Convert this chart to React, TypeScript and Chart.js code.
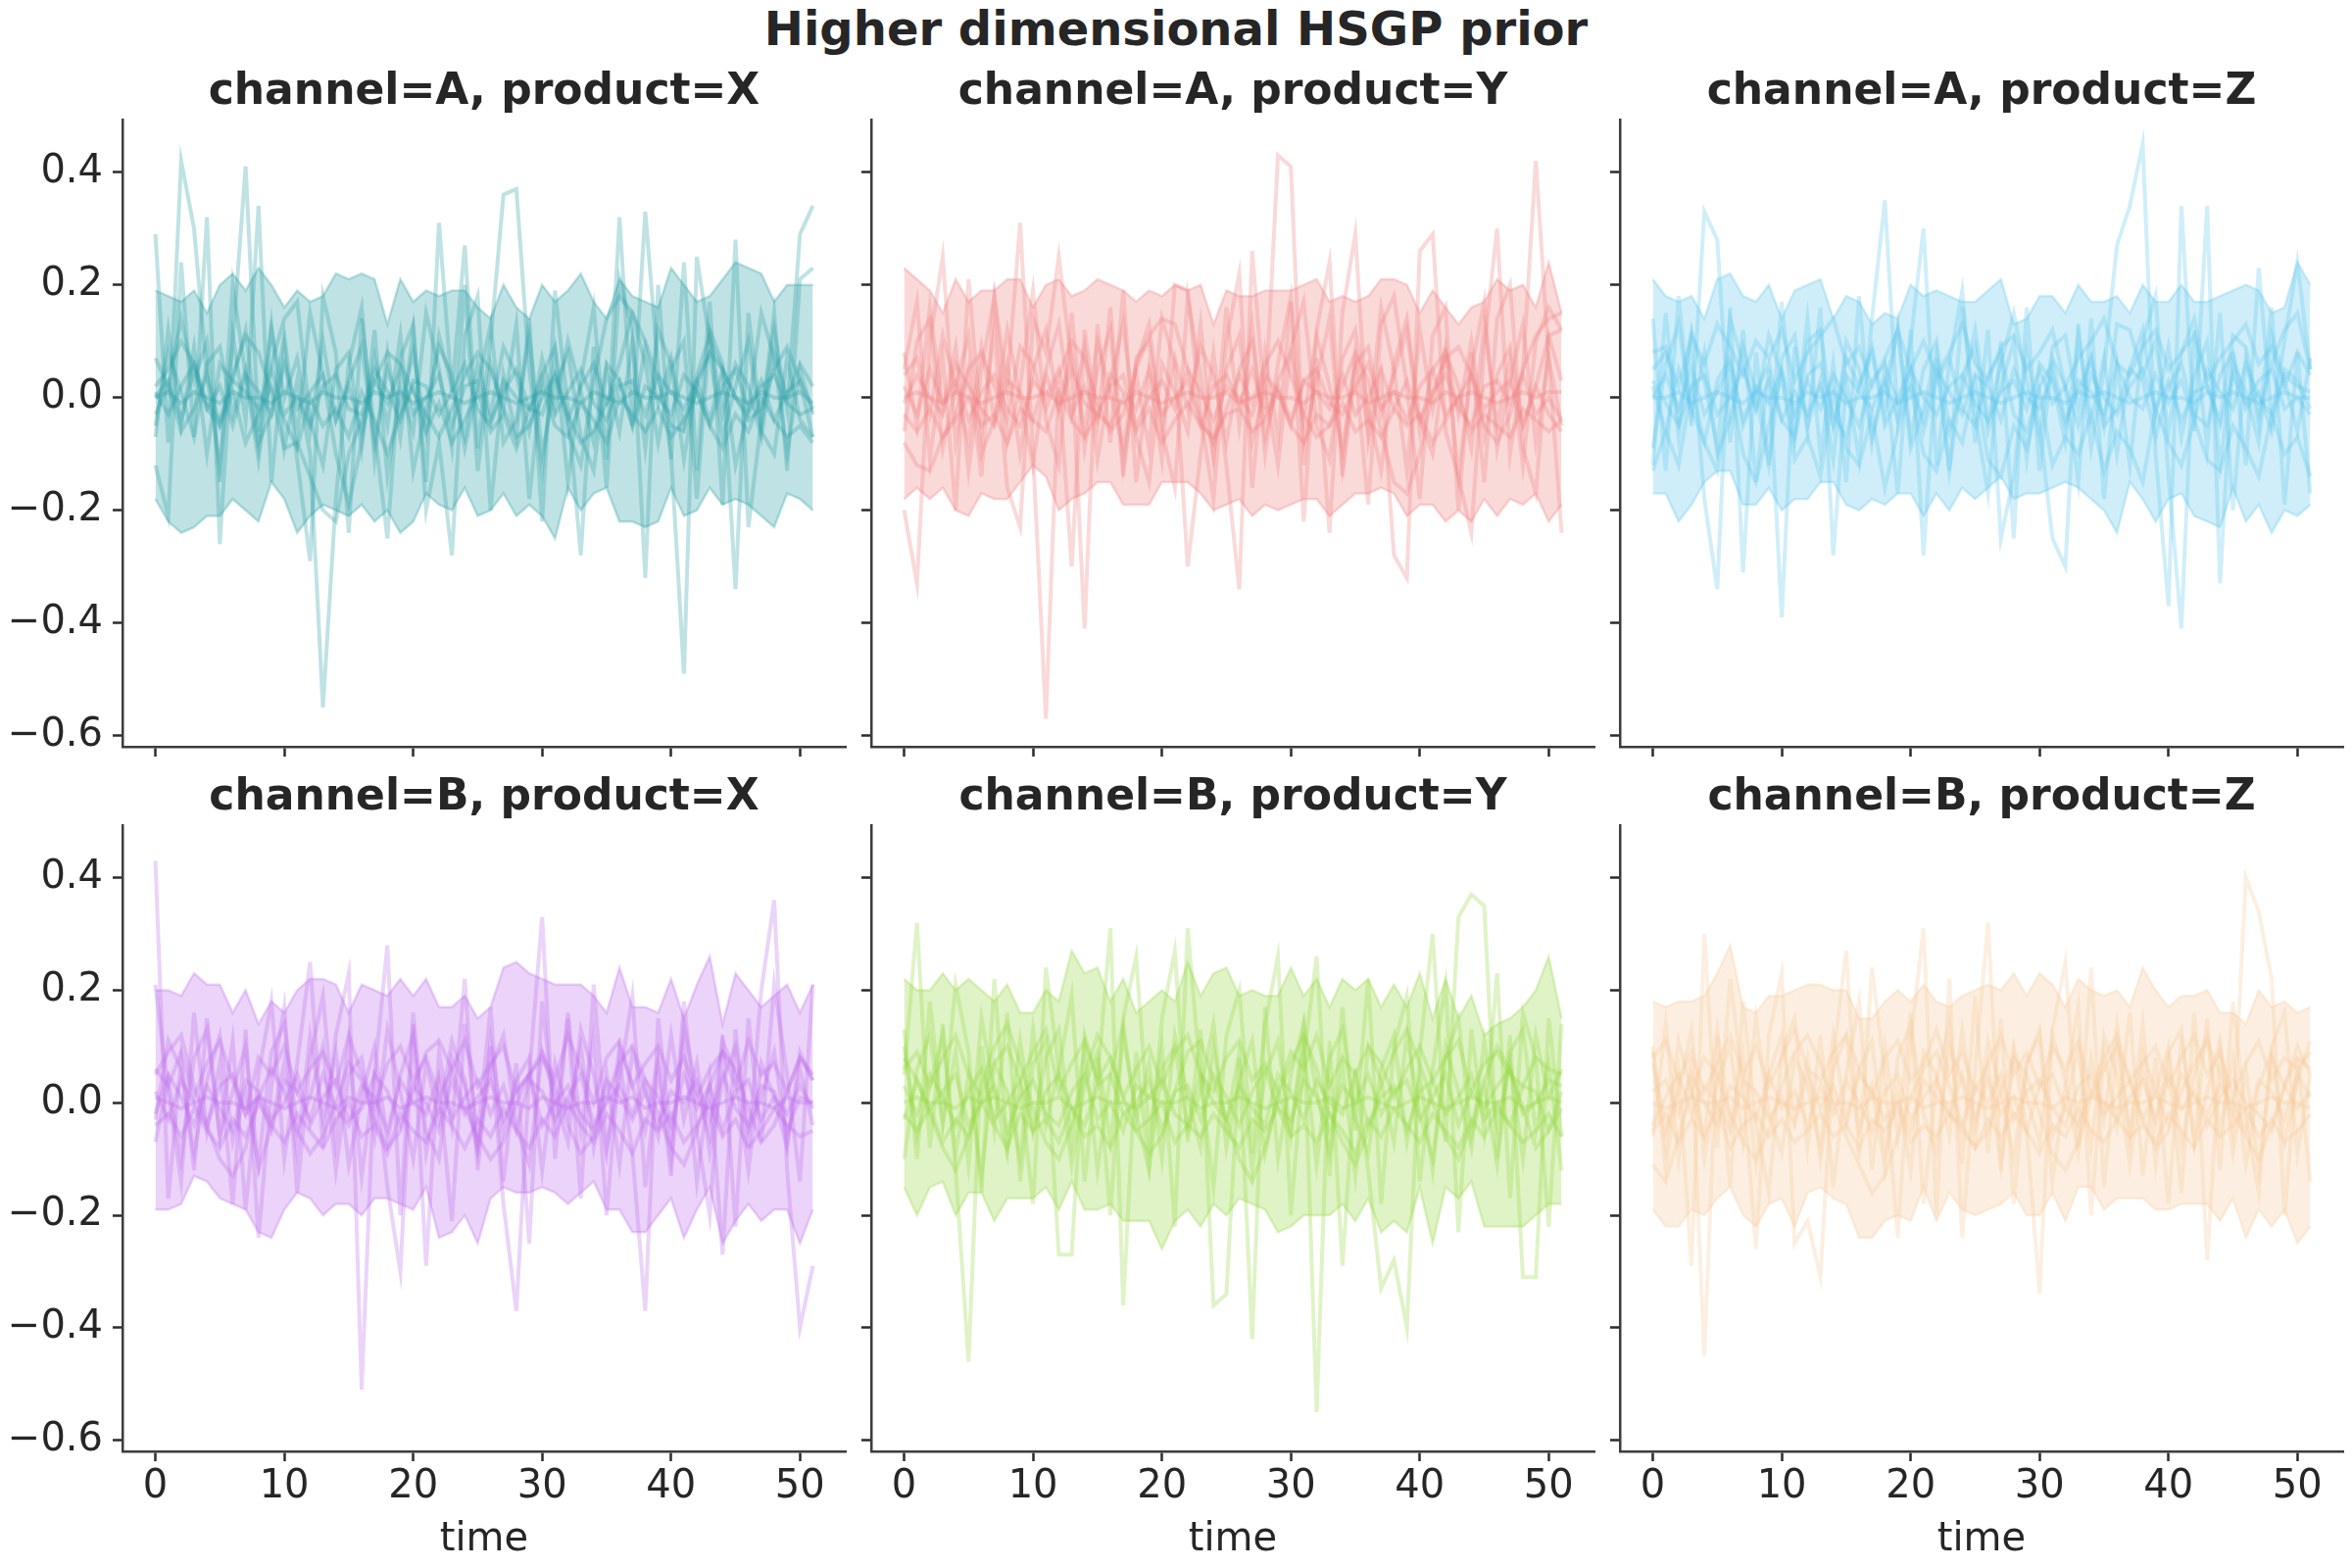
import React, { useEffect, useRef } from "react";
import { Chart, registerables } from "chart.js";

Chart.register(...registerables);

// ---------------- data ----------------
const TIME = [
  0, 1, 2, 3, 4, 5, 6, 7, 8, 9, 10, 11, 12,
  13, 14, 15, 16, 17, 18, 19, 20, 21, 22, 23, 24, 25,
  26, 27, 28, 29, 30, 31, 32, 33, 34, 35, 36, 37, 38,
  39, 40, 41, 42, 43, 44, 45, 46, 47, 48, 49, 50, 51,
];
const X_TICKS = [0, 10, 20, 30, 40, 50];
const X_TICK_LABELS = ["0", "10", "20", "30", "40", "50"];
const Y_TICKS = [-0.6, -0.4, -0.2, 0.0, 0.2, 0.4];
const Y_TICK_LABELS = ["\u22120.6", "\u22120.4", "\u22120.2", "0.0", "0.2", "0.4"];

// ---- channel=A, product=X ----
const AX_UPPER = [
  0.19, 0.18, 0.17, 0.19, 0.15, 0.20, 0.22, 0.19, 0.23, 0.20, 0.16, 0.19, 0.17,
  0.18, 0.22, 0.21, 0.22, 0.21, 0.13, 0.21, 0.17, 0.19, 0.18, 0.19, 0.19, 0.16,
  0.14, 0.20, 0.16, 0.14, 0.20, 0.17, 0.19, 0.22, 0.17, 0.14, 0.21, 0.18, 0.17,
  0.16, 0.23, 0.20, 0.17, 0.18, 0.21, 0.24, 0.23, 0.22, 0.17, 0.20, 0.20, 0.20,
];
const AX_LOWER = [
  -0.18, -0.22, -0.24, -0.23, -0.21, -0.21, -0.18, -0.20, -0.22, -0.15, -0.18, -0.24, -0.21,
  -0.19, -0.20, -0.21, -0.19, -0.22, -0.20, -0.24, -0.22, -0.17, -0.19, -0.20, -0.16, -0.21,
  -0.20, -0.17, -0.21, -0.19, -0.21, -0.25, -0.16, -0.20, -0.17, -0.16, -0.22, -0.22, -0.23,
  -0.22, -0.16, -0.21, -0.20, -0.16, -0.19, -0.18, -0.19, -0.21, -0.23, -0.17, -0.18, -0.20,
];
const AX_SAMPLES = [
  [0.29, -0.08, 0.42, 0.30, 0.04, -0.12, 0.10, 0.41, -0.06, 0.13, -0.09, 0.03, -0.10,
   -0.55, -0.18, 0.06, 0.16, -0.11, 0.08, -0.07, 0.12, -0.15, 0.31, 0.01, 0.27, -0.09,
   0.10, 0.36, 0.37, 0.05, -0.13, 0.08, -0.15, 0.03, 0.16, -0.11, 0.32, -0.05, 0.33,
   0.05, -0.10, -0.49, 0.25, 0.10, 0.05, -0.34, 0.15, -0.05, 0.12, -0.02, 0.29, 0.34],
  [-0.12, -0.21, 0.24, -0.07, 0.32, -0.26, 0.11, -0.04, 0.34, -0.15, 0.09, -0.11, -0.29,
   0.18, 0.08, -0.24, 0.14, -0.06, -0.25, 0.07, 0.13, -0.20, -0.08, -0.28, 0.11, 0.18,
   -0.20, 0.04, -0.07, 0.14, -0.22, 0.19, -0.02, -0.28, 0.09, -0.16, 0.21, 0.12, -0.32,
   0.20, -0.11, 0.24, -0.13, 0.17, -0.19, 0.28, -0.23, -0.04, 0.15, -0.13, 0.21, 0.23],
  [0.07, 0.02, 0.14, 0.03, 0.10, -0.15, 0.20, 0.04, -0.11, 0.06, 0.14, 0.17, -0.04,
   -0.12, 0.05, 0.08, -0.09, 0.12, -0.14, 0.02, -0.06, 0.15, 0.05, -0.09, 0.20, -0.13,
   0.06, -0.02, 0.13, -0.18, 0.04, 0.09, -0.06, -0.12, 0.03, 0.14, 0.18, 0.15, 0.06,
   -0.08, 0.05, 0.10, -0.18, 0.12, 0.06, -0.12, -0.02, 0.15, 0.07, -0.10, 0.05, -0.03],
  [-0.07, 0.12, -0.05, 0.09, -0.10, 0.06, 0.03, 0.12, -0.08, -0.03, 0.11, -0.07, 0.15,
   0.04, -0.10, -0.19, -0.08, 0.07, -0.05, 0.11, -0.13, -0.02, 0.09, 0.04, -0.09, 0.02,
   0.13, -0.08, -0.04, 0.11, -0.10, 0.02, 0.08, -0.07, -0.13, 0.05, -0.06, 0.10, -0.09,
   0.12, 0.06, -0.11, 0.03, 0.08, -0.07, 0.02, 0.10, -0.06, -0.10, 0.07, -0.04, -0.07],
  [0.02, 0.05, 0.10, 0.06, -0.02, -0.05, 0.04, 0.11, 0.08, 0.01, -0.09, -0.08, -0.14,
   -0.20, -0.22, -0.10, -0.04, 0.03, 0.08, 0.06, 0.01, -0.03, -0.07, -0.02, 0.04, 0.08,
   0.05, -0.02, -0.07, -0.05, 0.00, 0.04, -0.03, -0.08, -0.06, -0.01, 0.06, 0.15, 0.10,
   0.03, -0.05, -0.06, 0.02, 0.08, 0.05, 0.00, -0.04, -0.02, 0.05, 0.09, 0.03, -0.07],
  [0.00, 0.03, -0.04, 0.05, -0.02, 0.02, -0.05, 0.04, 0.01, -0.03, 0.06, -0.02, 0.01,
   0.04, -0.04, 0.02, -0.06, 0.03, -0.01, 0.05, -0.03, 0.00, 0.04, -0.05, 0.02, 0.03,
   -0.04, 0.01, 0.05, -0.02, -0.03, 0.04, -0.04, 0.02, 0.06, -0.01, 0.03, -0.05, 0.02,
   0.00, -0.03, 0.04, 0.01, -0.05, 0.02, 0.05, -0.02, 0.03, -0.04, 0.01, 0.03, -0.02],
  [0.01, -0.03, 0.02, 0.06, -0.01, -0.04, 0.03, 0.01, -0.02, 0.05, -0.03, 0.00, -0.05,
   0.02, 0.04, -0.02, -0.03, 0.05, 0.01, -0.04, 0.03, 0.02, -0.03, 0.01, 0.06, -0.02,
   -0.05, 0.03, 0.00, -0.02, 0.04, -0.03, 0.01, 0.05, -0.01, -0.04, 0.02, 0.03, -0.03,
   0.04, 0.01, -0.02, 0.03, -0.04, 0.05, 0.00, -0.03, 0.02, 0.04, -0.01, -0.03, -0.02],
  [0.00, 0.01, -0.01, 0.01, 0.00, -0.01, 0.01, 0.00, 0.00, -0.01, 0.01, 0.00, -0.01,
   0.01, 0.00, 0.00, -0.01, 0.01, 0.00, 0.01, -0.01, 0.00, 0.01, 0.00, -0.01, 0.00,
   0.01, 0.00, -0.01, 0.00, 0.01, 0.00, 0.00, -0.01, 0.01, 0.00, -0.01, 0.01, 0.00,
   0.00, 0.01, 0.00, -0.01, 0.00, 0.01, 0.00, -0.01, 0.01, 0.00, 0.00, 0.01, -0.01],
  [-0.03, 0.02, -0.06, -0.02, 0.04, -0.05, 0.01, -0.08, -0.03, 0.02, -0.04, -0.09, 0.00,
   -0.05, -0.02, -0.07, 0.01, -0.04, -0.10, -0.03, 0.02, -0.06, -0.01, -0.08, -0.04, 0.01,
   -0.06, -0.03, -0.09, -0.02, 0.02, -0.05, -0.07, -0.01, -0.04, -0.08, 0.00, -0.03, -0.06,
   -0.02, -0.07, -0.04, 0.01, -0.05, -0.09, -0.03, -0.06, 0.00, -0.04, -0.07, -0.05, -0.08],
  [-0.05, 0.08, 0.01, -0.07, 0.06, 0.09, -0.03, 0.05, -0.09, 0.12, 0.00, 0.07, -0.06,
   0.10, -0.04, 0.03, 0.09, -0.08, 0.05, -0.02, 0.08, -0.06, 0.11, 0.02, -0.07, 0.06,
   -0.03, 0.09, 0.04, -0.06, 0.07, -0.02, 0.10, 0.01, -0.08, 0.06, 0.03, -0.05, 0.09,
   -0.01, 0.07, -0.05, 0.04, 0.11, -0.03, 0.06, 0.02, -0.07, 0.08, 0.00, 0.06, 0.02],
];

// ---- channel=A, product=Y ----
const AY_UPPER = [
  0.23, 0.21, 0.19, 0.15, 0.21, 0.17, 0.19, 0.19, 0.21, 0.21, 0.16, 0.20, 0.21,
  0.18, 0.19, 0.21, 0.20, 0.19, 0.17, 0.19, 0.18, 0.20, 0.19, 0.20, 0.13, 0.19,
  0.18, 0.18, 0.19, 0.19, 0.19, 0.20, 0.21, 0.17, 0.18, 0.17, 0.18, 0.21, 0.21,
  0.20, 0.15, 0.19, 0.16, 0.13, 0.16, 0.17, 0.21, 0.19, 0.20, 0.16, 0.24, 0.15,
];
const AY_LOWER = [
  -0.18, -0.16, -0.18, -0.16, -0.20, -0.21, -0.17, -0.18, -0.18, -0.15, -0.12, -0.14, -0.20,
  -0.18, -0.17, -0.15, -0.15, -0.19, -0.19, -0.19, -0.15, -0.15, -0.15, -0.17, -0.20, -0.19,
  -0.18, -0.21, -0.19, -0.20, -0.19, -0.18, -0.18, -0.21, -0.19, -0.17, -0.17, -0.16, -0.17,
  -0.21, -0.19, -0.19, -0.22, -0.20, -0.22, -0.18, -0.21, -0.18, -0.19, -0.17, -0.22, -0.19,
];
const AY_SAMPLES = [
  [-0.20, -0.33, 0.10, 0.25, -0.08, 0.05, -0.14, 0.18, 0.02, 0.31, -0.10, -0.57, 0.03,
   -0.30, 0.12, -0.05, 0.16, -0.12, 0.04, -0.09, 0.14, 0.06, -0.30, -0.10, 0.08, -0.12,
   -0.34, 0.26, -0.02, 0.43, 0.41, -0.12, 0.07, -0.24, 0.15, 0.29, -0.08, 0.04, -0.28,
   -0.32, 0.26, 0.29, -0.06, -0.14, -0.24, 0.09, 0.30, -0.10, 0.05, 0.42, 0.07, -0.24],
  [0.05, 0.17, -0.11, 0.07, -0.20, 0.21, -0.06, 0.12, -0.16, -0.23, 0.14, 0.08, 0.25,
   0.06, -0.41, 0.13, -0.08, 0.19, -0.15, 0.05, -0.11, 0.20, 0.19, -0.03, -0.18, 0.10,
   0.22, -0.16, 0.08, -0.07, 0.17, -0.22, 0.12, 0.24, -0.14, 0.05, -0.19, 0.13, 0.18,
   0.02, -0.18, 0.11, 0.16, -0.20, 0.08, -0.15, 0.14, 0.20, -0.09, -0.17, 0.11, 0.12],
  [-0.06, 0.10, 0.14, -0.09, 0.02, 0.11, -0.10, -0.04, 0.12, 0.00, -0.12, 0.05, 0.13,
   -0.03, 0.09, -0.11, 0.03, 0.13, -0.07, -0.15, 0.06, 0.01, -0.06, 0.13, -0.10, 0.05,
   0.11, -0.08, 0.02, -0.12, 0.09, 0.17, -0.05, -0.11, 0.07, 0.12, -0.02, -0.13, 0.06,
   0.14, -0.04, -0.10, 0.08, 0.02, -0.09, 0.13, -0.05, 0.07, -0.12, 0.10, 0.16, 0.12],
  [-0.08, -0.12, -0.13, -0.07, -0.03, 0.05, 0.08, 0.02, -0.04, 0.09, 0.06, -0.02, 0.04,
   0.10, 0.07, -0.01, -0.06, -0.03, 0.05, 0.11, 0.14, 0.13, 0.05, -0.04, -0.08, -0.02,
   0.04, -0.01, 0.06, 0.10, 0.04, -0.03, -0.07, -0.05, 0.02, 0.08, 0.03, -0.06, -0.15,
   -0.17, -0.10, 0.01, 0.07, 0.09, 0.04, -0.05, -0.08, -0.03, 0.05, 0.11, 0.14, 0.15],
  [0.02, -0.03, 0.05, -0.01, 0.03, -0.04, 0.01, 0.04, -0.02, -0.05, 0.03, 0.00, 0.05,
   -0.03, 0.02, -0.04, 0.04, 0.01, -0.02, 0.05, -0.03, 0.00, 0.03, -0.05, 0.02, 0.04,
   -0.01, 0.05, -0.03, 0.02, -0.04, 0.03, 0.01, -0.02, 0.04, -0.03, 0.00, 0.05, -0.02,
   0.03, -0.04, 0.01, 0.04, -0.02, -0.05, 0.02, 0.03, -0.01, 0.04, -0.03, 0.00, -0.04],
  [-0.01, 0.04, 0.00, -0.03, 0.06, 0.02, -0.02, -0.05, 0.03, 0.01, -0.04, 0.04, -0.02,
   0.05, -0.01, -0.03, 0.02, 0.04, -0.05, 0.00, 0.03, -0.02, 0.05, 0.01, -0.04, 0.02,
   0.00, -0.03, 0.04, 0.01, -0.05, 0.03, 0.05, -0.01, -0.03, 0.02, 0.06, -0.02, 0.01,
   -0.04, 0.02, 0.05, -0.03, 0.00, 0.04, -0.02, 0.01, 0.03, -0.05, 0.02, -0.03, -0.06],
  [0.00, 0.01, 0.00, -0.01, 0.01, 0.00, -0.01, 0.00, 0.01, 0.00, 0.00, 0.01, -0.01,
   0.00, 0.01, 0.00, 0.00, -0.01, 0.01, 0.00, -0.01, 0.00, 0.01, 0.00, 0.00, 0.01,
   -0.01, 0.00, 0.01, 0.00, 0.00, -0.01, 0.01, 0.00, 0.00, 0.01, -0.01, 0.00, 0.01,
   0.00, 0.00, -0.01, 0.01, 0.00, 0.01, 0.00, -0.01, 0.00, 0.01, 0.00, 0.01, 0.01],
  [0.08, -0.05, 0.16, -0.02, 0.09, -0.13, 0.05, 0.18, -0.08, 0.02, 0.19, -0.04, -0.12,
   0.15, -0.09, 0.05, 0.12, -0.14, 0.07, 0.10, -0.06, -0.16, 0.18, 0.04, -0.11, 0.16,
   -0.05, 0.13, -0.10, 0.06, 0.18, -0.08, 0.03, 0.14, -0.12, 0.08, -0.06, 0.16, 0.05,
   -0.13, 0.12, -0.02, 0.09, -0.14, 0.05, 0.17, -0.09, 0.03, 0.13, -0.08, 0.07, -0.05],
  [-0.03, -0.06, -0.02, -0.07, -0.04, 0.00, -0.05, -0.03, -0.08, -0.02, -0.04, -0.06, 0.01,
   -0.04, -0.07, -0.03, -0.05, 0.00, -0.06, -0.02, -0.08, -0.04, -0.01, -0.05, -0.07, -0.03,
   -0.02, -0.06, -0.04, 0.01, -0.05, -0.08, -0.03, -0.05, -0.01, -0.06, -0.04, -0.07, -0.02,
   -0.05, -0.03, -0.08, -0.04, 0.00, -0.06, -0.03, -0.05, -0.07, -0.02, -0.04, -0.06, -0.04],
  [0.04, 0.07, -0.03, 0.11, 0.02, -0.08, 0.09, -0.04, 0.06, -0.10, 0.05, 0.12, -0.02,
   0.08, -0.06, 0.10, 0.01, -0.09, 0.06, 0.13, -0.05, 0.07, -0.02, 0.09, 0.04, -0.08,
   0.05, 0.10, -0.07, 0.03, 0.08, -0.04, 0.11, 0.02, -0.09, 0.06, 0.09, -0.03, 0.04,
   0.12, -0.06, 0.05, 0.08, -0.03, 0.10, -0.07, 0.04, 0.09, -0.05, 0.02, 0.11, 0.03],
];

// ---- channel=A, product=Z ----
const AZ_UPPER = [
  0.21, 0.18, 0.17, 0.18, 0.14, 0.21, 0.22, 0.18, 0.17, 0.20, 0.14, 0.19, 0.20,
  0.21, 0.14, 0.18, 0.17, 0.13, 0.15, 0.14, 0.20, 0.18, 0.19, 0.18, 0.17, 0.17,
  0.19, 0.21, 0.13, 0.14, 0.18, 0.18, 0.15, 0.20, 0.17, 0.17, 0.18, 0.15, 0.20,
  0.17, 0.17, 0.20, 0.17, 0.17, 0.18, 0.19, 0.20, 0.19, 0.15, 0.16, 0.24, 0.20,
];
const AZ_LOWER = [
  -0.17, -0.17, -0.22, -0.19, -0.15, -0.13, -0.13, -0.19, -0.19, -0.16, -0.20, -0.18, -0.18,
  -0.15, -0.15, -0.19, -0.20, -0.18, -0.19, -0.17, -0.17, -0.21, -0.17, -0.20, -0.16, -0.18,
  -0.16, -0.14, -0.18, -0.17, -0.17, -0.16, -0.15, -0.16, -0.18, -0.20, -0.24, -0.15, -0.18,
  -0.22, -0.18, -0.17, -0.21, -0.22, -0.23, -0.16, -0.22, -0.19, -0.24, -0.20, -0.21, -0.19,
];
const AZ_SAMPLES = [
  [0.14, -0.13, 0.18, -0.05, 0.33, 0.28, -0.08, 0.12, -0.15, 0.05, -0.39, 0.09, -0.06,
   0.16, -0.28, 0.03, -0.11, 0.14, 0.35, -0.04, 0.10, 0.30, -0.12, 0.06, 0.19, -0.08,
   0.12, -0.25, -0.14, 0.08, -0.05, -0.25, -0.30, 0.13, -0.09, 0.05, 0.27, 0.34, 0.45,
   -0.10, -0.37, 0.34, -0.06, 0.34, -0.33, 0.08, -0.12, 0.23, -0.04, 0.10, 0.24, 0.05],
  [-0.12, 0.15, -0.07, 0.10, -0.18, -0.34, 0.16, -0.31, 0.08, -0.12, 0.17, -0.06, 0.14,
   -0.10, 0.06, -0.15, 0.18, -0.08, 0.05, -0.17, 0.12, -0.28, 0.07, -0.13, 0.16, -0.03,
   -0.17, 0.10, -0.25, 0.16, -0.13, 0.07, 0.02, -0.15, 0.14, -0.18, 0.06, -0.12, 0.10,
   0.18, -0.14, -0.41, 0.12, -0.09, 0.15, -0.20, 0.07, -0.05, 0.16, -0.19, 0.08, -0.17],
  [0.08, 0.09, -0.04, 0.12, 0.03, -0.09, 0.14, 0.06, -0.02, 0.11, 0.04, -0.08, 0.10,
   0.12, -0.05, 0.07, 0.02, 0.09, -0.03, 0.13, -0.07, 0.05, 0.10, -0.06, 0.01, 0.12,
   -0.04, 0.06, 0.15, 0.03, -0.07, 0.09, 0.11, -0.02, 0.07, -0.05, 0.13, 0.12, 0.04,
   0.10, -0.06, 0.08, 0.14, 0.02, -0.04, 0.11, 0.09, -0.03, 0.06, 0.12, 0.15, 0.05],
  [-0.13, -0.06, -0.12, 0.02, -0.08, -0.13, 0.03, -0.10, -0.15, -0.05, 0.04, -0.11, -0.07,
   -0.14, 0.01, -0.09, -0.12, -0.03, -0.16, -0.06, 0.02, -0.10, -0.13, -0.04, -0.08, 0.03,
   -0.11, -0.14, -0.05, -0.09, 0.01, -0.12, -0.07, -0.10, -0.03, -0.13, -0.06, -0.09, -0.15,
   -0.02, -0.08, -0.12, -0.04, -0.11, -0.13, -0.05, -0.09, -0.14, -0.03, -0.10, -0.07, -0.14],
  [0.00, 0.04, -0.02, 0.05, -0.03, 0.01, 0.06, -0.04, 0.02, -0.01, 0.05, -0.03, 0.03,
   -0.02, 0.04, 0.00, -0.05, 0.03, 0.06, -0.01, 0.02, -0.04, 0.05, 0.01, -0.03, 0.04,
   0.02, -0.04, 0.05, 0.00, -0.02, 0.04, -0.05, 0.03, 0.01, -0.03, 0.06, 0.00, -0.02,
   0.04, -0.01, 0.03, -0.04, 0.05, 0.01, -0.02, 0.06, 0.00, -0.03, 0.04, 0.02, 0.01],
  [0.03, -0.01, -0.05, 0.02, 0.04, -0.03, 0.00, 0.05, -0.02, 0.03, -0.04, 0.01, -0.03,
   0.02, -0.05, 0.04, 0.01, -0.02, 0.03, -0.04, 0.05, 0.00, -0.03, 0.02, 0.04, -0.01,
   -0.04, 0.01, 0.03, -0.02, 0.05, -0.01, 0.02, -0.05, 0.04, 0.00, -0.03, 0.02, 0.05,
   -0.02, 0.03, -0.04, 0.01, 0.02, -0.05, 0.04, -0.01, 0.03, 0.05, -0.02, 0.00, -0.03],
  [0.00, 0.00, 0.01, -0.01, 0.00, 0.01, 0.00, -0.01, 0.01, 0.00, 0.00, -0.01, 0.01,
   0.00, 0.01, -0.01, 0.00, 0.00, 0.01, -0.01, 0.00, 0.01, 0.00, -0.01, 0.00, 0.01,
   0.00, -0.01, 0.00, 0.01, 0.00, 0.00, -0.01, 0.01, 0.00, 0.01, 0.00, -0.01, 0.00,
   0.01, 0.00, 0.00, -0.01, 0.01, 0.00, 0.01, 0.00, -0.01, 0.00, 0.01, 0.00, 0.00],
  [0.05, 0.08, 0.02, 0.11, 0.06, 0.13, 0.09, 0.04, 0.10, 0.07, 0.12, 0.03, 0.08,
   0.11, 0.14, 0.06, 0.09, 0.02, 0.07, 0.12, 0.05, 0.10, 0.04, 0.08, 0.13, 0.06,
   0.03, 0.09, 0.11, 0.05, 0.08, 0.12, 0.02, 0.07, 0.10, 0.14, 0.06, 0.04, 0.09,
   0.12, 0.05, 0.08, 0.11, 0.03, 0.07, 0.10, 0.13, 0.06, 0.09, 0.02, 0.08, 0.04],
  [-0.09, 0.06, 0.13, -0.03, 0.08, -0.10, -0.04, 0.09, 0.01, -0.12, 0.07, 0.11, -0.05,
   0.03, -0.11, 0.10, 0.05, -0.07, 0.02, 0.12, -0.09, -0.02, 0.08, -0.13, 0.04, 0.09,
   -0.06, 0.02, 0.10, -0.11, 0.06, 0.03, -0.08, 0.11, -0.04, 0.07, -0.10, 0.05, 0.12,
   -0.03, 0.09, -0.07, 0.04, 0.10, -0.12, 0.06, 0.01, -0.08, 0.11, 0.03, -0.06, 0.07],
  [0.02, -0.06, 0.05, -0.02, -0.08, 0.03, 0.07, -0.05, 0.01, 0.06, -0.04, -0.07, 0.04,
   0.06, -0.03, -0.07, 0.02, 0.08, -0.05, 0.00, 0.05, -0.06, 0.03, 0.07, -0.02, -0.05,
   0.04, 0.08, -0.03, -0.06, 0.02, 0.06, -0.04, 0.01, 0.07, -0.05, -0.02, 0.05, 0.03,
   -0.07, 0.02, 0.06, -0.03, -0.05, 0.04, 0.08, -0.02, 0.01, -0.06, 0.05, 0.03, -0.02],
];

// ---- channel=B, product=X ----
const BX_UPPER = [
  0.20, 0.20, 0.19, 0.23, 0.21, 0.21, 0.16, 0.20, 0.14, 0.18, 0.16, 0.20, 0.22,
  0.22, 0.21, 0.16, 0.21, 0.20, 0.19, 0.22, 0.19, 0.22, 0.17, 0.17, 0.19, 0.15,
  0.17, 0.24, 0.25, 0.23, 0.22, 0.21, 0.21, 0.21, 0.19, 0.16, 0.24, 0.17, 0.17,
  0.16, 0.22, 0.15, 0.21, 0.26, 0.14, 0.23, 0.20, 0.17, 0.19, 0.21, 0.16, 0.21,
];
const BX_LOWER = [
  -0.19, -0.19, -0.18, -0.13, -0.14, -0.17, -0.18, -0.19, -0.23, -0.24, -0.19, -0.16, -0.17,
  -0.20, -0.18, -0.18, -0.20, -0.17, -0.17, -0.18, -0.19, -0.15, -0.24, -0.23, -0.20, -0.25,
  -0.17, -0.15, -0.16, -0.16, -0.15, -0.16, -0.18, -0.16, -0.14, -0.19, -0.19, -0.23, -0.23,
  -0.20, -0.17, -0.24, -0.19, -0.15, -0.25, -0.21, -0.18, -0.21, -0.19, -0.19, -0.25, -0.19,
];
const BX_SAMPLES = [
  [0.43, -0.17, 0.08, -0.12, 0.15, -0.06, 0.11, -0.19, 0.05, 0.18, -0.10, 0.07, 0.25,
   -0.08, 0.12, 0.23, -0.51, 0.06, -0.15, -0.30, 0.14, -0.29, 0.09, -0.04, 0.22, -0.12,
   0.10, -0.18, -0.37, 0.05, 0.33, -0.10, 0.16, -0.05, 0.12, -0.20, 0.08, -0.09, -0.37,
   0.15, -0.06, 0.11, -0.14, 0.04, -0.27, 0.13, -0.08, 0.20, 0.36, -0.12, -0.40, -0.29],
  [0.21, 0.02, -0.14, 0.16, -0.05, 0.07, -0.18, 0.13, -0.24, 0.03, 0.17, -0.16, 0.08,
   0.19, -0.07, 0.11, -0.13, 0.05, 0.28, -0.20, 0.16, -0.09, 0.03, -0.21, 0.14, -0.06,
   0.17, -0.14, 0.07, -0.25, 0.18, -0.03, 0.15, -0.17, 0.21, -0.08, 0.04, 0.19, -0.15,
   0.06, -0.13, 0.18, -0.05, -0.20, 0.12, -0.22, 0.15, -0.07, 0.21, 0.05, -0.14, 0.21],
  [-0.03, 0.11, 0.06, -0.09, 0.04, 0.12, -0.07, 0.02, -0.11, 0.09, 0.14, -0.05, 0.01,
   0.10, -0.12, 0.05, 0.08, -0.06, 0.13, 0.02, -0.10, 0.07, -0.03, 0.11, 0.04, -0.08,
   0.06, 0.12, -0.04, -0.11, 0.09, 0.01, -0.07, 0.13, 0.05, -0.09, 0.10, 0.03, -0.05,
   0.08, -0.10, 0.14, 0.02, -0.06, 0.11, 0.05, -0.12, 0.07, 0.01, -0.08, 0.09, 0.04],
  [0.05, 0.09, 0.12, 0.03, -0.04, -0.10, -0.13, -0.08, 0.01, 0.06, 0.02, -0.05, -0.09,
   -0.06, 0.00, 0.07, 0.04, -0.03, -0.08, -0.05, 0.02, 0.09, 0.11, 0.06, -0.01, -0.06,
   -0.10, -0.07, 0.00, 0.05, 0.08, 0.03, -0.04, -0.09, -0.06, 0.01, 0.07, 0.10, 0.04,
   -0.02, -0.08, -0.11, -0.05, 0.03, 0.09, 0.06, -0.01, -0.07, -0.04, 0.02, 0.08, 0.05],
  [0.02, -0.03, 0.04, 0.00, -0.04, 0.03, 0.05, -0.02, 0.01, -0.05, 0.04, 0.02, -0.03,
   0.05, -0.01, -0.04, 0.03, 0.01, -0.05, 0.04, 0.00, -0.02, 0.05, -0.03, 0.01, 0.04,
   -0.02, 0.03, -0.05, 0.04, 0.02, -0.03, 0.01, 0.05, -0.04, 0.00, 0.03, -0.02, 0.04,
   0.01, -0.04, 0.05, -0.01, 0.03, -0.05, 0.02, 0.04, -0.03, 0.01, -0.02, 0.03, -0.01],
  [-0.02, 0.05, 0.01, -0.04, 0.03, -0.01, -0.05, 0.04, 0.02, -0.03, 0.00, 0.05, -0.04,
   0.01, 0.04, -0.03, -0.01, 0.05, 0.02, -0.04, 0.03, 0.00, -0.05, 0.04, -0.02, 0.01,
   0.04, -0.03, 0.02, 0.05, -0.04, 0.00, 0.03, -0.02, -0.05, 0.04, 0.01, -0.03, 0.02,
   -0.04, 0.02, 0.00, 0.04, -0.03, 0.05, -0.01, -0.04, 0.03, 0.02, -0.05, 0.01, 0.00],
  [0.01, 0.00, -0.01, 0.00, 0.01, 0.00, 0.00, -0.01, 0.01, 0.00, -0.01, 0.00, 0.01,
   0.00, -0.01, 0.01, 0.00, 0.00, 0.01, -0.01, 0.00, 0.01, 0.00, 0.00, -0.01, 0.00,
   0.01, 0.00, 0.00, -0.01, 0.01, 0.00, -0.01, 0.00, 0.00, 0.01, 0.00, 0.01, -0.01,
   0.00, 0.00, 0.01, 0.00, -0.01, 0.00, 0.01, 0.00, 0.00, -0.01, 0.01, 0.00, 0.00],
  [-0.07, 0.04, -0.10, 0.08, 0.13, -0.06, 0.02, 0.10, -0.12, -0.04, 0.07, -0.09, 0.12,
   -0.03, 0.09, -0.11, 0.01, 0.10, -0.07, 0.05, 0.12, -0.05, -0.10, 0.08, 0.03, -0.09,
   0.11, -0.05, 0.04, 0.08, -0.12, 0.07, -0.02, 0.10, -0.08, 0.05, -0.11, 0.09, 0.02,
   -0.06, 0.12, -0.03, 0.07, -0.09, 0.04, 0.10, -0.05, 0.01, 0.09, -0.07, 0.06, -0.04],
  [-0.04, -0.02, -0.06, -0.01, -0.05, -0.08, -0.03, -0.06, 0.00, -0.04, -0.07, -0.02, -0.05,
   -0.08, -0.03, 0.00, -0.06, -0.04, -0.09, -0.02, -0.05, -0.07, -0.01, -0.04, -0.08, -0.03,
   -0.06, -0.01, -0.05, -0.08, -0.03, -0.06, 0.00, -0.04, -0.07, -0.02, -0.05, -0.09, -0.03,
   -0.05, -0.02, -0.07, -0.04, 0.00, -0.06, -0.03, -0.08, -0.05, -0.01, -0.04, -0.06, -0.05],
  [0.06, 0.03, 0.09, 0.01, 0.07, 0.11, 0.04, -0.02, 0.08, 0.05, 0.10, 0.02, 0.06,
   0.09, 0.03, 0.12, 0.05, -0.01, 0.07, 0.10, 0.04, 0.08, 0.01, 0.06, 0.11, 0.03,
   0.07, 0.10, 0.02, 0.05, 0.09, 0.04, 0.12, 0.06, 0.00, 0.08, 0.11, 0.03, 0.07,
   0.10, 0.04, 0.08, 0.01, 0.06, 0.09, 0.03, 0.11, 0.05, 0.07, 0.02, 0.08, 0.04],
];

// ---- channel=B, product=Y ----
const BY_UPPER = [
  0.22, 0.20, 0.20, 0.23, 0.20, 0.22, 0.20, 0.18, 0.21, 0.16, 0.16, 0.20, 0.18,
  0.27, 0.23, 0.24, 0.18, 0.22, 0.16, 0.18, 0.20, 0.18, 0.25, 0.19, 0.23, 0.24,
  0.19, 0.20, 0.19, 0.19, 0.24, 0.19, 0.22, 0.17, 0.22, 0.20, 0.22, 0.17, 0.21,
  0.17, 0.23, 0.15, 0.22, 0.15, 0.19, 0.12, 0.14, 0.15, 0.17, 0.20, 0.26, 0.15,
];
const BY_LOWER = [
  -0.15, -0.20, -0.15, -0.14, -0.20, -0.16, -0.16, -0.21, -0.17, -0.17, -0.17, -0.15, -0.19,
  -0.14, -0.19, -0.19, -0.18, -0.21, -0.21, -0.21, -0.26, -0.21, -0.19, -0.22, -0.18, -0.20,
  -0.17, -0.18, -0.19, -0.23, -0.22, -0.20, -0.20, -0.20, -0.18, -0.21, -0.17, -0.23, -0.21,
  -0.23, -0.15, -0.25, -0.15, -0.17, -0.14, -0.22, -0.22, -0.22, -0.22, -0.20, -0.18, -0.18,
];
const BY_SAMPLES = [
  [0.05, 0.32, -0.08, 0.14, -0.12, -0.46, 0.10, -0.05, 0.16, -0.14, 0.07, 0.11, -0.27,
   -0.27, 0.12, 0.04, 0.31, -0.36, 0.09, -0.11, 0.15, 0.27, -0.07, 0.13, -0.36, -0.34,
   0.08, -0.42, 0.17, -0.10, 0.05, 0.14, -0.55, 0.11, -0.29, 0.06, -0.12, -0.33, -0.28,
   -0.40, 0.09, 0.30, -0.07, 0.33, 0.37, 0.35, -0.10, 0.12, -0.31, -0.31, 0.15, -0.06],
  [0.13, -0.10, 0.18, -0.03, 0.21, 0.09, -0.16, 0.22, -0.08, 0.03, -0.18, 0.24, 0.06,
   0.19, -0.14, 0.08, -0.20, 0.15, 0.26, -0.06, 0.10, -0.22, 0.31, 0.04, -0.15, 0.12,
   0.20, -0.09, 0.14, 0.26, -0.20, 0.08, 0.26, -0.13, 0.17, -0.05, 0.22, -0.18, 0.10,
   0.19, -0.14, 0.06, 0.21, -0.23, 0.13, -0.05, 0.23, -0.17, 0.16, 0.08, -0.22, 0.14],
  [-0.10, 0.06, 0.12, -0.04, 0.09, -0.11, 0.15, 0.02, -0.09, 0.11, -0.05, 0.08, 0.13,
   -0.07, 0.10, -0.12, 0.05, 0.14, -0.03, 0.07, -0.10, 0.12, 0.01, -0.08, 0.10, -0.04,
   0.09, -0.12, 0.05, 0.11, -0.06, 0.14, 0.02, -0.09, 0.07, -0.13, 0.10, 0.04, -0.07,
   0.12, -0.02, -0.10, 0.08, 0.15, -0.06, 0.03, -0.11, 0.09, 0.13, -0.05, 0.07, -0.12],
  [0.08, 0.04, -0.02, -0.08, -0.12, -0.06, 0.03, 0.10, 0.14, 0.07, -0.01, -0.07, -0.10,
   -0.04, 0.05, 0.12, 0.08, 0.01, -0.05, -0.09, -0.06, 0.02, 0.09, 0.11, 0.04, -0.03,
   -0.10, -0.14, -0.08, 0.01, 0.07, 0.12, 0.06, -0.02, -0.07, -0.11, -0.05, 0.03, 0.09,
   0.13, 0.07, 0.00, -0.06, -0.10, -0.04, 0.04, 0.10, 0.06, -0.01, -0.08, -0.05, 0.02],
  [0.03, -0.02, 0.05, 0.01, -0.04, 0.02, 0.06, -0.03, 0.00, 0.04, -0.05, 0.02, 0.05,
   -0.01, -0.04, 0.03, 0.05, -0.02, 0.00, 0.04, -0.05, 0.02, 0.03, -0.03, 0.05, 0.01,
   -0.04, 0.02, 0.06, -0.01, -0.03, 0.04, 0.01, -0.05, 0.03, 0.00, 0.05, -0.02, 0.02,
   0.04, -0.03, 0.01, 0.05, -0.04, 0.02, -0.01, 0.03, 0.06, -0.02, 0.00, 0.04, 0.03],
  [-0.03, 0.04, -0.01, 0.02, 0.05, -0.04, 0.00, 0.03, -0.05, 0.01, 0.04, -0.02, -0.04,
   0.02, 0.05, -0.03, 0.00, -0.05, 0.03, 0.01, 0.04, -0.02, -0.04, 0.05, 0.00, -0.03,
   0.03, -0.01, -0.04, 0.05, 0.02, -0.03, 0.04, 0.00, -0.02, 0.05, -0.04, 0.01, 0.03,
   -0.05, 0.02, 0.04, -0.02, 0.01, 0.05, -0.03, 0.00, -0.04, 0.03, 0.02, -0.05, -0.01],
  [0.00, 0.01, 0.00, 0.00, -0.01, 0.01, 0.00, 0.01, 0.00, -0.01, 0.00, 0.00, 0.01,
   -0.01, 0.00, 0.01, 0.00, 0.00, -0.01, 0.01, 0.00, 0.00, 0.01, -0.01, 0.00, 0.00,
   0.01, 0.00, -0.01, 0.00, 0.01, 0.00, 0.00, 0.01, -0.01, 0.00, 0.01, 0.00, -0.01,
   0.00, 0.01, 0.00, -0.01, 0.00, 0.01, 0.00, 0.00, 0.01, -0.01, 0.00, 0.01, 0.00],
  [0.10, -0.06, 0.03, 0.12, -0.09, 0.05, -0.13, 0.07, 0.02, -0.10, 0.13, -0.04, 0.06,
   -0.11, 0.03, 0.09, -0.07, 0.12, -0.02, -0.12, 0.06, 0.10, -0.05, 0.02, 0.14, -0.08,
   0.04, 0.11, -0.09, 0.02, -0.05, 0.10, -0.11, 0.08, 0.13, -0.03, -0.09, 0.06, 0.12,
   -0.07, 0.05, -0.12, 0.10, 0.02, -0.08, 0.11, -0.04, 0.07, -0.10, 0.12, 0.01, 0.06],
  [-0.02, -0.05, -0.01, -0.07, -0.03, -0.06, 0.00, -0.04, -0.08, -0.02, -0.05, -0.03, -0.07,
   -0.01, -0.06, -0.04, -0.08, -0.02, -0.05, -0.03, 0.00, -0.07, -0.04, -0.06, -0.02, -0.05,
   -0.08, -0.03, -0.05, -0.01, -0.06, -0.04, -0.07, -0.02, -0.05, -0.09, -0.03, -0.06, -0.01,
   -0.04, -0.07, -0.02, -0.05, -0.08, -0.03, -0.06, -0.01, -0.04, -0.07, -0.05, -0.02, -0.06],
  [0.06, 0.09, 0.03, 0.08, 0.12, 0.05, 0.01, 0.07, 0.10, 0.04, 0.09, 0.13, 0.02,
   0.07, 0.11, 0.04, 0.08, 0.01, 0.06, 0.10, 0.03, 0.09, 0.12, 0.05, 0.02, 0.08,
   0.11, 0.04, 0.07, 0.02, 0.09, 0.06, 0.12, 0.03, 0.08, 0.05, 0.10, 0.07, 0.01,
   0.06, 0.10, 0.04, 0.08, 0.11, 0.02, 0.07, 0.09, 0.05, 0.03, 0.08, 0.06, 0.05],
];

// ---- channel=B, product=Z ----
const BZ_UPPER = [
  0.18, 0.17, 0.18, 0.18, 0.19, 0.23, 0.28, 0.17, 0.16, 0.19, 0.19, 0.20, 0.21,
  0.21, 0.20, 0.20, 0.15, 0.15, 0.18, 0.20, 0.18, 0.21, 0.18, 0.17, 0.19, 0.20,
  0.21, 0.20, 0.23, 0.19, 0.23, 0.21, 0.17, 0.22, 0.20, 0.19, 0.20, 0.17, 0.24,
  0.20, 0.17, 0.19, 0.19, 0.20, 0.16, 0.16, 0.14, 0.20, 0.17, 0.18, 0.16, 0.17,
];
const BZ_LOWER = [
  -0.19, -0.22, -0.22, -0.19, -0.20, -0.17, -0.15, -0.20, -0.22, -0.18, -0.17, -0.22, -0.16,
  -0.15, -0.17, -0.18, -0.24, -0.24, -0.21, -0.20, -0.21, -0.15, -0.21, -0.16, -0.19, -0.20,
  -0.19, -0.18, -0.16, -0.20, -0.20, -0.16, -0.21, -0.15, -0.15, -0.19, -0.17, -0.17, -0.17,
  -0.19, -0.19, -0.18, -0.18, -0.18, -0.21, -0.17, -0.24, -0.19, -0.22, -0.19, -0.25, -0.22,
];
const BZ_SAMPLES = [
  [0.10, -0.12, 0.05, -0.29, 0.30, -0.08, 0.22, 0.03, -0.26, 0.12, 0.23, -0.25, -0.21,
   -0.31, 0.08, 0.27, -0.10, 0.24, 0.05, -0.24, 0.11, 0.31, -0.20, 0.22, -0.24, 0.06,
   0.32, -0.12, 0.09, -0.05, -0.34, 0.13, 0.25, -0.08, 0.24, -0.15, 0.10, -0.06, 0.14,
   -0.11, 0.07, -0.16, 0.16, -0.28, 0.09, -0.05, 0.40, 0.34, 0.22, -0.20, 0.08, -0.14],
  [-0.06, 0.14, -0.10, 0.08, -0.45, 0.12, -0.15, 0.18, -0.04, -0.16, 0.09, 0.15, -0.08,
   0.12, -0.15, 0.05, 0.18, -0.12, 0.10, -0.06, 0.16, -0.18, 0.04, 0.14, -0.11, 0.19,
   -0.09, 0.15, -0.18, 0.07, 0.12, -0.14, 0.03, 0.17, -0.20, 0.09, -0.04, 0.16, -0.13,
   0.08, -0.18, 0.12, -0.07, 0.15, -0.12, 0.18, -0.03, -0.16, 0.10, 0.16, -0.09, 0.05],
  [0.07, -0.08, 0.11, 0.02, -0.06, 0.13, -0.04, 0.09, -0.11, 0.05, 0.12, -0.03, 0.08,
   -0.10, 0.06, 0.12, -0.05, 0.03, -0.12, 0.08, 0.14, -0.02, -0.09, 0.10, 0.04, -0.07,
   0.11, 0.02, -0.10, 0.07, 0.13, -0.06, -0.01, 0.10, -0.08, 0.12, 0.05, -0.11, 0.06,
   -0.04, 0.09, 0.13, -0.07, 0.02, 0.11, -0.09, 0.06, -0.12, 0.08, 0.03, 0.10, 0.05],
  [-0.11, -0.14, -0.06, 0.02, 0.08, 0.05, -0.02, -0.07, -0.10, -0.05, 0.03, 0.09, 0.12,
   0.07, 0.00, -0.06, -0.11, -0.16, -0.13, -0.06, 0.01, 0.06, 0.09, 0.03, -0.04, -0.08,
   -0.05, 0.02, 0.08, 0.05, -0.02, -0.09, -0.12, -0.07, 0.01, 0.06, 0.10, 0.04, -0.03,
   -0.08, -0.05, 0.02, 0.07, 0.11, 0.05, -0.02, -0.06, -0.10, -0.04, 0.03, 0.08, 0.06],
  [0.02, 0.04, -0.02, 0.05, 0.00, -0.04, 0.03, 0.01, -0.03, 0.05, -0.01, 0.02, -0.04,
   0.03, -0.02, 0.04, 0.00, -0.05, 0.02, 0.05, -0.03, 0.01, 0.04, -0.02, -0.04, 0.03,
   0.00, 0.05, -0.03, 0.02, 0.04, -0.01, -0.04, 0.03, 0.05, -0.02, 0.01, 0.04, -0.03,
   0.02, -0.04, 0.05, 0.01, -0.02, 0.03, 0.00, -0.05, 0.04, 0.02, -0.03, 0.05, 0.01],
  [-0.04, 0.01, 0.05, -0.02, 0.03, 0.00, -0.05, 0.04, 0.02, -0.03, 0.01, -0.04, 0.05,
   -0.01, 0.03, -0.04, 0.05, 0.02, -0.03, 0.00, -0.05, 0.04, 0.01, -0.02, 0.05, -0.03,
   0.04, -0.02, 0.01, -0.05, 0.03, 0.05, -0.01, -0.04, 0.02, 0.00, -0.03, 0.01, 0.04,
   -0.03, 0.05, -0.01, 0.02, -0.04, 0.01, 0.04, 0.00, -0.02, -0.05, 0.03, -0.01, 0.02],
  [0.00, -0.01, 0.00, 0.01, 0.00, 0.00, 0.01, -0.01, 0.00, 0.01, 0.00, -0.01, 0.00,
   0.01, 0.00, 0.00, -0.01, 0.01, 0.00, 0.00, 0.01, -0.01, 0.00, 0.00, 0.01, 0.00,
   -0.01, 0.00, 0.01, 0.00, 0.00, -0.01, 0.01, 0.00, 0.01, 0.00, -0.01, 0.00, 0.00,
   0.01, 0.00, -0.01, 0.00, 0.01, 0.00, 0.00, -0.01, 0.00, 0.01, 0.00, 0.00, -0.01],
  [0.09, -0.05, 0.02, 0.13, -0.10, 0.04, 0.10, -0.07, 0.15, -0.02, -0.09, 0.08, 0.03,
   -0.08, 0.12, -0.03, 0.06, 0.11, -0.09, 0.02, -0.12, 0.09, 0.05, -0.06, 0.13, -0.04,
   0.07, -0.11, 0.10, 0.01, -0.07, 0.12, 0.04, -0.09, 0.08, -0.03, 0.14, -0.06, 0.09,
   0.02, 0.10, -0.08, 0.05, 0.12, -0.05, 0.08, -0.11, 0.03, 0.09, -0.07, 0.04, 0.11],
  [-0.05, -0.02, -0.07, -0.03, -0.06, -0.01, -0.08, -0.04, -0.02, -0.06, -0.03, -0.07, -0.05,
   -0.02, -0.06, -0.04, -0.08, -0.03, -0.05, -0.01, -0.07, -0.04, -0.06, -0.02, -0.05, -0.08,
   -0.03, -0.06, -0.02, -0.05, -0.09, -0.04, -0.06, -0.01, -0.05, -0.07, -0.03, -0.06, -0.04,
   -0.07, -0.02, -0.05, -0.08, -0.03, -0.06, -0.04, -0.01, -0.06, -0.03, -0.07, -0.05, -0.02],
  [0.08, 0.11, 0.04, 0.09, 0.02, 0.07, 0.12, 0.05, 0.10, 0.03, 0.08, 0.13, 0.06,
   0.04, 0.09, 0.12, 0.06, 0.01, 0.08, 0.11, 0.04, 0.07, 0.13, 0.05, 0.09, 0.02,
   0.07, 0.12, 0.05, 0.09, 0.03, 0.10, 0.06, 0.11, 0.02, 0.08, 0.12, 0.04, 0.07,
   0.10, 0.03, 0.08, 0.12, 0.05, 0.09, 0.01, 0.07, 0.11, 0.04, 0.08, 0.06, 0.09],
];

// ---------------- layout / style config ----------------
const SUPTITLE = "Higher dimensional HSGP prior";
const FONT = "'DejaVu Sans', 'Liberation Sans', sans-serif";
const TEXT_COLOR = "#262626";
const X_MIN = -2.55;
const X_MAX = 53.55;
const Y_MIN = -0.6197;
const Y_MAX = 0.4934;

const COL_LEFT = [125, 889, 1653];
const ROW_TOP = [122, 842];
const ROW_PLOT_H = [640, 639];
const PLOT_W = 738;
const Y_AXIS_W = 125;
const TITLE_BLOCK = 110;
const TITLE_GAP = 0.6;
const X_AXIS_H = [12, 115];
const RIGHT_PAD = 20;

type PanelCfg = {
  title: string;
  rgb: number[];
  upper: number[];
  lower: number[];
  samples: number[][];
  row: number;
  col: number;
};

const PANELS: PanelCfg[] = [
  { title: "channel=A, product=X", rgb: [42, 158, 165], upper: AX_UPPER, lower: AX_LOWER, samples: AX_SAMPLES, row: 0, col: 0 },
  { title: "channel=A, product=Y", rgb: [240, 128, 128], upper: AY_UPPER, lower: AY_LOWER, samples: AY_SAMPLES, row: 0, col: 1 },
  { title: "channel=A, product=Z", rgb: [95, 200, 235], upper: AZ_UPPER, lower: AZ_LOWER, samples: AZ_SAMPLES, row: 0, col: 2 },
  { title: "channel=B, product=X", rgb: [190, 110, 235], upper: BX_UPPER, lower: BX_LOWER, samples: BX_SAMPLES, row: 1, col: 0 },
  { title: "channel=B, product=Y", rgb: [150, 215, 65], upper: BY_UPPER, lower: BY_LOWER, samples: BY_SAMPLES, row: 1, col: 1 },
  { title: "channel=B, product=Z", rgb: [245, 202, 155], upper: BZ_UPPER, lower: BZ_LOWER, samples: BZ_SAMPLES, row: 1, col: 2 },
];

function Panel({ cfg }: { cfg: PanelCfg }) {
  const ref = useRef<HTMLCanvasElement>(null);
  const width = Y_AXIS_W + PLOT_W + RIGHT_PAD;
  const height = TITLE_BLOCK + ROW_PLOT_H[cfg.row] + X_AXIS_H[cfg.row];
  const left = COL_LEFT[cfg.col] - Y_AXIS_W;
  const top = ROW_TOP[cfg.row] - TITLE_BLOCK;
  const showX = cfg.row === 1;
  const showY = cfg.col === 0;

  useEffect(() => {
    const canvas = ref.current;
    if (!canvas) return;
    const rgba = (a: number) => `rgba(${cfg.rgb[0]},${cfg.rgb[1]},${cfg.rgb[2]},${a})`;
    const pts = (arr: number[]) => arr.map((v, i) => ({ x: TIME[i], y: v }));

    const datasets: any[] = [
      ...cfg.samples.map((s) => ({
        data: pts(s),
        borderColor: rgba(0.3),
        borderWidth: 4,
        pointRadius: 0,
        fill: false,
        tension: 0,
        order: 0,
      })),
      {
        data: pts(cfg.upper),
        borderColor: rgba(0.3),
        borderWidth: 2.5,
        backgroundColor: rgba(0.3),
        pointRadius: 0,
        fill: "+1",
        tension: 0,
        order: 1,
      },
      {
        data: pts(cfg.lower),
        borderColor: rgba(0.3),
        borderWidth: 2.5,
        pointRadius: 0,
        fill: false,
        tension: 0,
        order: 1,
      },
    ];

    const tickFont = { family: FONT, size: 40 };
    const chart = new Chart(canvas, {
      type: "line",
      data: { datasets },
      options: {
        responsive: false,
        animation: false,
        devicePixelRatio: 1,
        layout: { padding: { left: 0, right: RIGHT_PAD, top: 0, bottom: 0 } },
        plugins: {
          legend: { display: false },
          tooltip: { enabled: false },
          title: {
            display: true,
            text: cfg.title,
            fullSize: false,
            color: TEXT_COLOR,
            font: { family: FONT, size: 44, weight: "bold", lineHeight: 1.2 },
            padding: { top: TITLE_BLOCK - 52.8 - TITLE_GAP, bottom: TITLE_GAP },
          },
        },
        scales: {
          x: {
            type: "linear",
            min: X_MIN,
            max: X_MAX,
            afterBuildTicks: (axis: any) => {
              axis.ticks = X_TICKS.map((v) => ({ value: v }));
            },
            afterFit: (axis: any) => {
              axis.height = X_AXIS_H[cfg.row];
              axis.paddingLeft = 0;
              axis.paddingRight = 0;
              axis.paddingTop = 0;
              axis.paddingBottom = 0;
            },
            ticks: {
              color: TEXT_COLOR,
              font: tickFont,
              padding: 3,
              maxRotation: 0,
              autoSkip: false,
              callback: (v: any) => {
                if (!showX) return "";
                const i = X_TICKS.indexOf(Number(v));
                return i >= 0 ? X_TICK_LABELS[i] : "";
              },
            },
            grid: {
              drawOnChartArea: false,
              drawTicks: true,
              tickLength: 10,
              tickWidth: 2.5,
              tickColor: "#2b2b2b",
            },
            border: { display: true, color: "#3c3c3c", width: 2.5 },
            title: {
              display: showX,
              text: "time",
              color: TEXT_COLOR,
              font: { family: FONT, size: 40, lineHeight: 1.2 },
              padding: { top: 0, bottom: 0 },
            },
          },
          y: {
            type: "linear",
            min: Y_MIN,
            max: Y_MAX,
            afterBuildTicks: (axis: any) => {
              axis.ticks = Y_TICKS.map((v) => ({ value: v }));
            },
            afterFit: (axis: any) => {
              axis.width = Y_AXIS_W;
              axis.paddingLeft = 0;
              axis.paddingRight = 0;
              axis.paddingTop = 0;
              axis.paddingBottom = 0;
            },
            ticks: {
              color: TEXT_COLOR,
              font: tickFont,
              padding: 10,
              autoSkip: false,
              callback: (v: any) => {
                if (!showY) return "";
                const n = Number(v);
                const i = Y_TICKS.findIndex((t) => Math.abs(t - n) < 1e-9);
                return i >= 0 ? Y_TICK_LABELS[i] : "";
              },
            },
            grid: {
              drawOnChartArea: false,
              drawTicks: true,
              tickLength: 10,
              tickWidth: 2.5,
              tickColor: "#2b2b2b",
            },
            border: { display: true, color: "#3c3c3c", width: 2.5 },
          },
        },
      } as any,
    });
    return () => chart.destroy();
  }, []);

  return (
    <canvas
      ref={ref}
      width={width}
      height={height}
      style={{ position: "absolute", left, top, width, height }}
    />
  );
}

export default function App() {
  return (
    <div
      style={{
        position: "absolute",
        left: 0,
        top: 0,
        width: 2400,
        height: 1600,
        background: "#ffffff",
        overflow: "hidden",
      }}
    >
      <div
        style={{
          position: "absolute",
          left: 0,
          top: 5,
          width: 2400,
          textAlign: "center",
          fontFamily: FONT,
          fontWeight: "bold",
          fontSize: 48,
          lineHeight: "48px",
          color: TEXT_COLOR,
          whiteSpace: "nowrap",
        }}
      >
        {SUPTITLE}
      </div>
      {PANELS.map((p) => (
        <Panel key={p.title} cfg={p} />
      ))}
    </div>
  );
}
